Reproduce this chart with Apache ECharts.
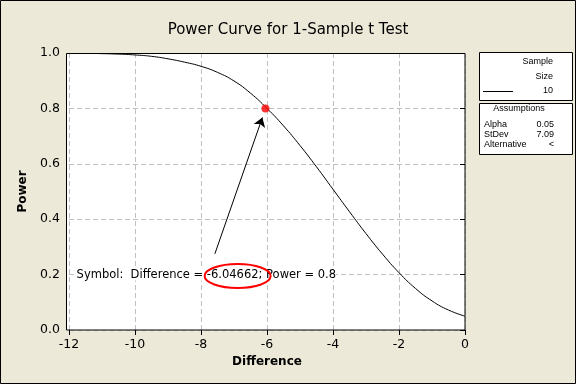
<!DOCTYPE html>
<html><head><meta charset="utf-8">
<script src="https://cdn.jsdelivr.net/npm/echarts@6/dist/echarts.min.js"></script>
<style>html,body{margin:0;padding:0;background:#ECE9D8}#c{width:576px;height:384px}</style>
</head><body><div id="c"></div>
<script>
// Power curve values
const diffs = [-11.13, -10.5, -10, -9.5, -9, -8.5, -8, -7.5, -7, -6.5, -6, -5.5, -5, -4.5, -4, -3.5, -3, -2.5, -2, -1.5, -1, -0.5, 0];
const power = [0.998, 0.996, 0.993, 0.988, 0.979, 0.967, 0.952, 0.930, 0.899, 0.855, 0.80, 0.737, 0.666, 0.589, 0.508, 0.427, 0.348, 0.274, 0.207, 0.150, 0.105, 0.072, 0.050];
const markerPoint = [-6.04662, 0.8];
const arrowStart = [-7.58, 0.275];
const arrowEnd = [-6.14, 0.767];
const annotationText = 'Symbol:  Difference = -6.04662; Power = 0.8';
const annotationAnchor = [-11.77, 0.2];
const ellipseCenter = [-6.89, 0.195];
const titleText = 'Power Curve for 1-Sample t Test';
const xName = 'Difference';
const yName = 'Power';
const sampleSize = '10';
const assumptionLabels = ['Alpha', 'StDev', 'Alternative'];
const assumptionValues = ['0.05', '7.09', '<'];

const chart = echarts.init(document.getElementById('c'), null, {renderer: 'canvas'});
const F = 'DejaVu Sans';
const grid = {left: 69, right: 111, top: 53, bottom: 54};
chart.setOption({
  backgroundColor: '#ECE9D8',
  animation: false,
  title: {text: titleText, left: 'center', top: 18,
    textStyle: {fontFamily: F, fontSize: 15, fontWeight: 'normal', color: '#000'}},
  grid: Object.assign({show: true, backgroundColor: '#fff', borderWidth: 0}, grid),
  xAxis: {type: 'value', min: -12, max: 0, interval: 2,
    name: xName, nameLocation: 'middle', nameGap: 23,
    nameTextStyle: {fontFamily: F, fontSize: 12, fontWeight: 'bold', color: '#000'},
    axisLine: {show: false},
    axisTick: {show: true, length: 5, lineStyle: {color: '#000'}},
    axisLabel: {margin: 8, fontFamily: F, fontSize: 12.5, color: '#000'},
    splitLine: {show: true, lineStyle: {color: '#C0C0C0', type: [5, 3]}}},
  yAxis: {type: 'value', min: 0, max: 1, interval: 0.2, offset: 2,
    name: yName, nameLocation: 'middle', nameGap: 34, nameRotate: 90,
    nameTextStyle: {fontFamily: F, fontSize: 12, fontWeight: 'bold', color: '#000'},
    axisLine: {show: false},
    axisTick: {show: true, length: 5, lineStyle: {color: '#000'}},
    axisLabel: {margin: 7, fontFamily: F, fontSize: 12.5, color: '#000', formatter: v => v.toFixed(1)},
    splitLine: {show: true, lineStyle: {color: '#C0C0C0', type: [5, 3]}}},
  series: [
    {type: 'line', data: diffs.map((d, i) => [d, power[i]]), smooth: true, showSymbol: false,
      lineStyle: {color: '#000', width: 1}, z: 3,
      markLine: {silent: true, symbol: ['none', 'arrow'], symbolSize: 9, label: {show: false},
        lineStyle: {color: '#000', width: 1, type: 'solid'},
        data: [[{coord: arrowStart}, {coord: arrowEnd}]]}},
    {type: 'scatter', data: [markerPoint], symbol: 'circle', symbolSize: 8,
      itemStyle: {color: '#FF0000'}, z: 5}
  ]
});

const px = p => chart.convertToPixel({xAxisIndex: 0, yAxisIndex: 0}, p);
const a = px(annotationAnchor);
const e = px(ellipseCenter);
const g = [
  {type: 'rect', z: -1, shape: {x: 67, y: 53, width: 3, height: 277}, style: {fill: '#fff'}},
  {type: 'rect', z: 20, shape: {x: 66.5, y: 53.5, width: 398.5, height: 276.5}, style: {fill: null, stroke: '#000', lineWidth: 1}},
  {type: 'rect', z: 20, shape: {x: 0.5, y: 0.5, width: 575, height: 383}, style: {fill: null, stroke: '#000', lineWidth: 1}},
  {type: 'text', z: 10, x: a[0], y: a[1], style: {text: annotationText, font: '11.5px "DejaVu Sans"', fill: '#000', verticalAlign: 'middle', backgroundColor: '#fff'}},
  {type: 'ellipse', z: 11, shape: {cx: e[0], cy: e[1], rx: 33, ry: 12}, style: {fill: null, stroke: '#FF0000', lineWidth: 2}},
  {type: 'rect', z: 20, shape: {x: 479.5, y: 52.5, width: 93, height: 48}, style: {fill: '#fff', stroke: '#000', lineWidth: 1}},
  {type: 'text', z: 21, x: 553, y: 62, style: {text: 'Sample', font: '9px "Liberation Sans"', fill: '#000', align: 'right', verticalAlign: 'middle'}},
  {type: 'text', z: 21, x: 553, y: 77, style: {text: 'Size', font: '9px "Liberation Sans"', fill: '#000', align: 'right', verticalAlign: 'middle'}},
  {type: 'line', z: 21, shape: {x1: 483, y1: 91.5, x2: 513, y2: 91.5}, style: {stroke: '#000', lineWidth: 1}},
  {type: 'text', z: 21, x: 553, y: 91, style: {text: sampleSize, font: '9px "Liberation Sans"', fill: '#000', align: 'right', verticalAlign: 'middle'}},
  {type: 'rect', z: 20, shape: {x: 479.5, y: 103.5, width: 93, height: 51}, style: {fill: '#fff', stroke: '#000', lineWidth: 1}},
  {type: 'text', z: 21, x: 519, y: 109, style: {text: 'Assumptions', font: '9px "Liberation Sans"', fill: '#000', align: 'center', verticalAlign: 'middle'}}
];
assumptionLabels.forEach((l, i) => {
  g.push({type: 'text', z: 21, x: 484, y: 125 + i * 10, style: {text: l, font: '9px "Liberation Sans"', fill: '#000', align: 'left', verticalAlign: 'middle'}});
  g.push({type: 'text', z: 21, x: 554, y: 125 + i * 10, style: {text: assumptionValues[i], font: '9px "Liberation Sans"', fill: '#000', align: 'right', verticalAlign: 'middle'}});
});
chart.setOption({graphic: g});
</script>
</body></html>
